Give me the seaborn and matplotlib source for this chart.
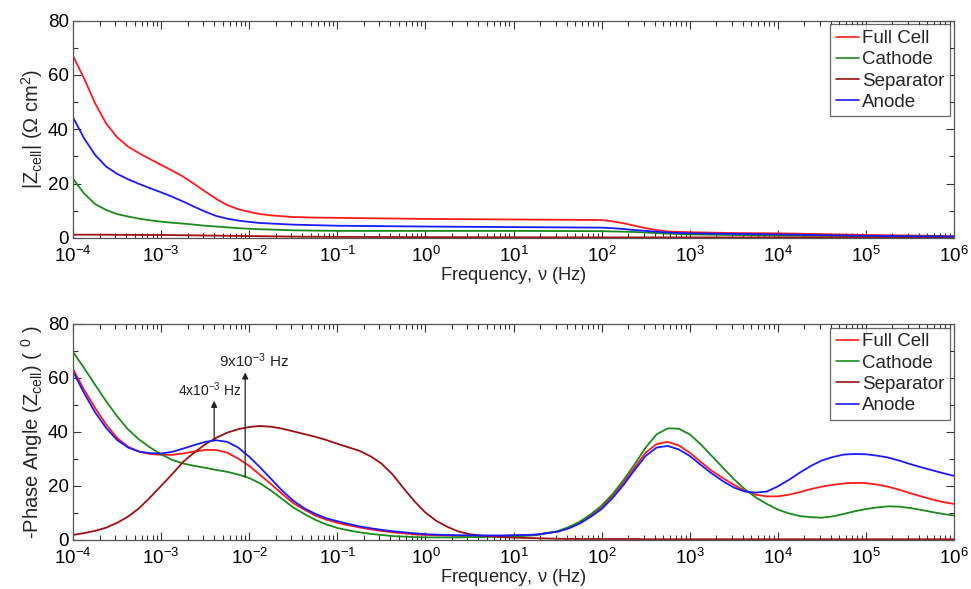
import numpy as np
import pandas as pd
import matplotlib
matplotlib.use("Agg")
import matplotlib.pyplot as plt
import matplotlib.transforms as mtransforms
from matplotlib.ticker import (FixedLocator, LogFormatterMathtext, MultipleLocator,
                               NullFormatter)
import seaborn as sns

# ---------------- data ----------------
series_names = ["Full Cell", "Cathode", "Separator", "Anode"]
series_colors = ["#ff1a1a", "#1a8a1a", "#a01010", "#1a1aff"]
xtick_freqs = [1e-4, 1e-3, 1e-2, 1e-1, 1e0, 1e1, 1e2, 1e3, 1e4, 1e5, 1e6]

# |Z| panel: log10 of frequency (Hz)
logf_mag = [-4, -3.875, -3.75, -3.625, -3.5, -3.375, -3.25, -3.125, -3, -2.875, -2.75, -2.625,
            -2.5, -2.375, -2.25, -2.125, -2, -1.875, -1.75, -1.625, -1.5, -1.375, -1.25, -1.125, -1,
            0, 1, 2, 2.125, 2.25, 2.375, 2.5, 2.625, 2.75, 3, 3.5, 4, 5, 6]
mag_full = [67.0, 58.8, 49.6, 42.2, 37.1, 33.6, 31.2, 29.0, 26.9, 24.8, 22.6, 19.9,
            17.1, 14.4, 12.1, 10.6, 9.6, 8.8, 8.3, 8.0, 7.7, 7.6, 7.5, 7.45, 7.4,
            7.0, 6.8, 6.6, 6.1, 5.4, 4.5, 3.6, 2.9, 2.4, 2.1, 1.8, 1.7, 1.1, 0.7]
mag_cathode = [21.8, 16.4, 12.5, 10.3, 8.8, 7.9, 7.1, 6.5, 6.0, 5.6, 5.3, 4.9,
               4.5, 4.2, 3.9, 3.6, 3.4, 3.2, 3.1, 2.95, 2.8, 2.75, 2.7, 2.65, 2.6,
               2.6, 2.6, 2.5, 2.4, 2.3, 2.2, 2.0, 1.8, 1.6, 1.3, 1.1, 0.9, 0.7, 0.5]
mag_separator = [1.2, 1.2, 1.2, 1.2, 1.15, 1.15, 1.1, 1.1, 1.1, 1.05, 1.0, 0.95,
                 0.9, 0.85, 0.8, 0.75, 0.7, 0.65, 0.6, 0.55, 0.5, 0.45, 0.45, 0.4, 0.4,
                 0.3, 0.25, 0.2, 0.2, 0.2, 0.2, 0.2, 0.2, 0.2, 0.2, 0.2, 0.2, 0.2, 0.2]
mag_anode = [44.4, 36.7, 30.6, 26.3, 23.6, 21.6, 19.9, 18.3, 16.8, 15.2, 13.4, 11.5,
             9.7, 8.1, 7.1, 6.4, 5.9, 5.5, 5.3, 5.1, 4.9, 4.8, 4.7, 4.6, 4.5,
             4.2, 4.0, 3.8, 3.6, 3.3, 2.9, 2.6, 2.3, 2.0, 1.7, 1.5, 1.3, 0.8, 0.5]

# phase panel: log10 of frequency (Hz)
logf_ph = [-4, -3.875, -3.75, -3.625, -3.5, -3.375, -3.25, -3.125, -3, -2.875, -2.75, -2.625,
           -2.5, -2.375, -2.25, -2.125, -2, -1.875, -1.75, -1.625, -1.5, -1.375, -1.25, -1.125, -1,
           -0.875, -0.75, -0.625, -0.5, -0.375, -0.25, -0.125, 0, 0.125, 0.25, 0.375, 0.5,
           0.625, 0.75, 0.875, 1,
           1.25, 1.5, 1.625, 1.75, 1.875,
           2, 2.125, 2.25, 2.375, 2.5, 2.625, 2.75, 2.875, 3, 3.125, 3.25, 3.375, 3.5, 3.625,
           3.75, 3.875, 4, 4.125, 4.25, 4.375, 4.5, 4.625, 4.75, 4.875, 5, 5.125, 5.25, 5.375,
           5.5, 5.625, 5.75, 5.875, 6]
ph_full = [63.3, 55.7, 48.9, 42.8, 37.8, 34.5, 32.7, 31.8, 31.5, 31.5, 32.0, 32.7,
           33.3, 33.3, 32.3, 30.1, 27.4, 24.0, 20.6, 17.0, 13.6, 11.2, 9.0, 7.5, 6.3,
           5.4, 4.6, 3.9, 3.3, 2.8, 2.4, 2.0, 1.8, 1.7, 1.6, 1.5, 1.5,
           1.5, 1.5, 1.5, 1.6,
           1.9, 3.1, 4.4, 6.3, 8.9,
           12.0, 16.3, 21.3, 26.8, 32.3, 35.5, 36.3, 35.0, 32.3, 28.9, 25.6, 22.9, 20.4, 18.2,
           16.7, 16.1, 16.1, 16.7, 17.7, 18.8, 19.7, 20.4, 20.9, 21.1, 21.0, 20.5, 19.7, 18.6,
           17.3, 16.1, 15.0, 14.0, 13.3]
ph_cathode = [69.6, 63.7, 57.5, 51.4, 45.8, 40.9, 37.2, 34.2, 31.7, 29.6, 28.3, 27.4,
              26.7, 25.9, 25.2, 24.2, 22.9, 20.9, 18.2, 15.1, 12.0, 9.6, 7.4, 5.7, 4.4,
              3.5, 2.8, 2.2, 1.8, 1.4, 1.2, 1.0, 0.9, 0.9, 0.9, 0.9, 1.0,
              1.0, 1.1, 1.1, 1.2,
              1.7, 3.2, 4.7, 6.7, 9.4,
              12.7, 17.0, 22.2, 28.0, 34.2, 39.1, 41.3, 41.2, 39.1, 35.4, 31.1, 26.8, 22.5, 18.8,
              15.7, 13.3, 11.2, 9.8, 8.8, 8.4, 8.2, 8.7, 9.6, 10.6, 11.4, 12.0, 12.4, 12.3,
              11.8, 11.1, 10.3, 9.6, 9.0]
ph_separator = [1.8, 2.5, 3.3, 4.5, 6.3, 8.6, 11.7, 15.7, 20.0, 24.3, 28.9, 32.3,
                35.4, 37.8, 39.7, 41.0, 41.8, 42.2, 41.9, 41.2, 40.2, 39.2, 38.2, 37.0, 35.6,
                34.3, 33.0, 31.0, 28.3, 24.3, 19.2, 14.3, 10.1, 7.0, 4.8, 3.1, 2.1,
                1.6, 1.2, 1.0, 0.8,
                0.6, 0.4, 0.35, 0.3, 0.3,
                0.3, 0.3, 0.3, 0.3, 0.2, 0.2, 0.2, 0.2, 0.2, 0.2, 0.2, 0.2, 0.2, 0.2,
                0.2, 0.2, 0.2, 0.2, 0.2, 0.2, 0.2, 0.2, 0.2, 0.2, 0.2, 0.2, 0.2, 0.2,
                0.2, 0.2, 0.2, 0.2, 0.2]
ph_anode = [62.4, 54.4, 47.3, 41.5, 37.0, 34.2, 32.7, 32.1, 32.0, 32.6, 33.8, 35.1,
            36.3, 36.9, 36.3, 34.2, 30.8, 26.8, 22.5, 18.2, 14.5, 11.7, 9.6, 8.0, 6.9,
            5.9, 5.0, 4.3, 3.7, 3.2, 2.8, 2.4, 2.1, 1.9, 1.8, 1.7, 1.7,
            1.6, 1.6, 1.6, 1.7,
            1.9, 3.0, 4.2, 6.0, 8.5,
            11.4, 15.5, 20.4, 25.9, 31.1, 34.2, 34.8, 33.5, 31.1, 27.8, 24.6, 21.8, 19.4, 17.9,
            17.5, 17.9, 19.8, 22.2, 24.9, 27.4, 29.4, 30.7, 31.6, 31.8, 31.7, 31.2, 30.5, 29.4,
            28.1, 26.9, 25.8, 24.7, 23.7]

# annotations: arrow frequency, arrow tail y, arrow head y, label, label centre freq, label size
annot_freqs = [4e-3, 9e-3]
annot_tail = [36.7, 23.3]
annot_head = [51.5, 62.0]
annot_labels = [r"4x10$^{-3}$ Hz", r"9x10$^{-3}$ Hz"]
annot_label_x = [3.6e-3, 1.13e-2]
annot_label_size = [10, 11]

# ---------------- build tables ----------------
def long_table(logf, cols):
    frames = []
    for name, vals in zip(series_names, cols):
        frames.append(pd.DataFrame({"freq": 10.0 ** np.asarray(logf, float),
                                    "val": vals, "series": name}))
    return pd.concat(frames, ignore_index=True)

df_mag = long_table(logf_mag, [mag_full, mag_cathode, mag_separator, mag_anode])
df_ph = long_table(logf_ph, [ph_full, ph_cathode, ph_separator, ph_anode])

# ---------------- plotting ----------------
sns.set_style("ticks")
plt.rcParams["font.family"] = ["Liberation Sans", "DejaVu Sans"]
plt.rcParams["mathtext.fontset"] = "custom"
plt.rcParams["mathtext.rm"] = "Liberation Sans"
plt.rcParams["mathtext.it"] = "Liberation Sans:italic"
plt.rcParams["mathtext.default"] = "rm"

fig = plt.figure(figsize=(9.71, 5.89), dpi=100)
ax1 = fig.add_axes([0.0752, 0.596, 0.9073, 0.369])
ax2 = fig.add_axes([0.0752, 0.0835, 0.9073, 0.3665])

palette = dict(zip(series_names, series_colors))
minor_freqs = [m * d for d in xtick_freqs[:-1] for m in range(2, 10)]

for ax, df in ((ax1, df_mag), (ax2, df_ph)):
    sns.lineplot(data=df, x="freq", y="val", hue="series", hue_order=series_names,
                 palette=palette, sort=False, estimator=None, linewidth=1.3, ax=ax)
    ax.set_xscale("log")
    ax.set_xlim(1e-4, 1e6)
    ax.set_ylim(0, 80)
    ax.yaxis.set_major_locator(MultipleLocator(20))
    ax.yaxis.set_minor_locator(MultipleLocator(10))
    ax.xaxis.set_major_locator(FixedLocator(xtick_freqs))
    ax.xaxis.set_major_formatter(LogFormatterMathtext())
    ax.xaxis.set_minor_locator(FixedLocator(minor_freqs))
    ax.xaxis.set_minor_formatter(NullFormatter())
    ax.tick_params(which="both", direction="in", top=True, right=True,
                   colors="#333333", labelcolor="black", labelsize=13.5)
    ax.tick_params(axis="x", which="both", pad=5.5)
    ax.tick_params(axis="y", which="both", pad=3)
    ax.tick_params(which="major", length=6, width=0.8)
    ax.tick_params(which="minor", length=3.5, width=0.8)
    for sp in ax.spines.values():
        sp.set_color("#555555")
        sp.set_linewidth(0.9)
    ax.set_xlabel(r"Frequency, $\nu$ (Hz)", fontsize=13.2, labelpad=-0.5)
    leg = ax.legend(loc="upper right", fontsize=13.5, frameon=True, fancybox=False,
                    handlelength=1.25, handletextpad=0.15, borderpad=0.3,
                    labelspacing=0.22, borderaxespad=0.2)
    leg.get_frame().set_edgecolor("#444444")
    leg.get_frame().set_linewidth(0.9)
    for line in leg.get_lines():
        line.set_linewidth(1.2)
    # lift the "0" y label a touch so it does not collide with the 10^-4 label
    ylab0 = ax.yaxis.get_major_ticks()[0].label1
    ylab0.set_va("bottom")
    ylab0.set_transform(ylab0.get_transform() +
                        mtransforms.ScaledTranslation(0, -6.5 / 72, fig.dpi_scale_trans))

ax1.set_ylabel(r"|Z$_{\mathrm{cell}}$| ($\Omega$ cm$^{2}$)", fontsize=14.5, labelpad=2)
ax2.set_ylabel(r"-Phase Angle (Z$_{\mathrm{cell}}$) ( $^{0}$ )", fontsize=14.5, labelpad=2)

for f, y0, y1, lab, lx, ls in zip(annot_freqs, annot_tail, annot_head, annot_labels,
                                  annot_label_x, annot_label_size):
    ax2.annotate("", xy=(f, y1), xytext=(f, y0),
                 arrowprops=dict(arrowstyle="-|>", color="#222222", lw=0.9,
                                 mutation_scale=9, shrinkA=0, shrinkB=0))
    ax2.text(lx, y1 + 0.8, lab, fontsize=ls, ha="center", va="bottom", color="#222222")

fig.savefig("out.png", dpi=100)
